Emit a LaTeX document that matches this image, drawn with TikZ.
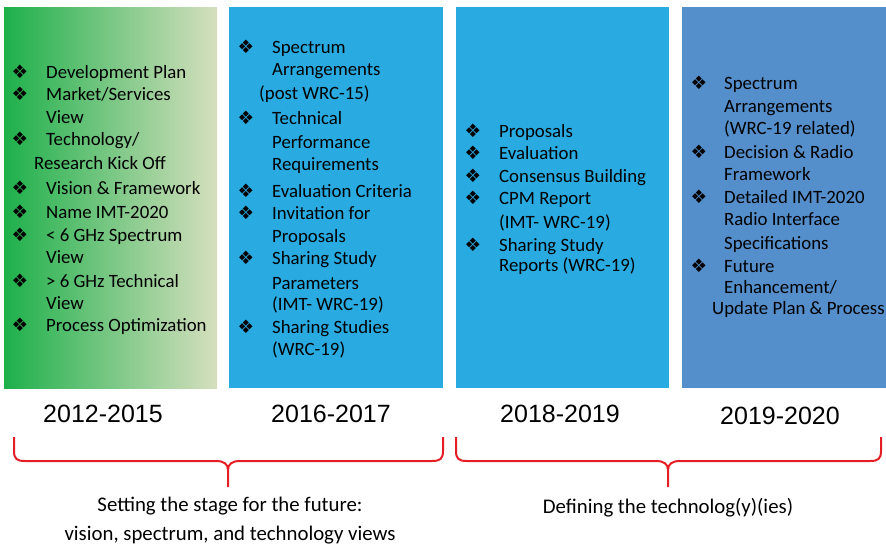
\documentclass[tikz,border=0pt]{standalone}
\usepackage{fontspec}
\usetikzlibrary{calc}
\setmainfont{Carlito}
\newfontfamily\yearfont{Liberation Sans}
\newfontfamily\dejavu{DejaVu Sans}
\definecolor{gL}{RGB}{30,176,75}
\definecolor{gR}{RGB}{214,223,190}
\definecolor{cyanbox}{RGB}{41,171,226}
\definecolor{bluebox}{RGB}{84,142,203}
\definecolor{bracered}{RGB}{228,30,36}
\begin{document}
\begin{tikzpicture}[x=1pt,y=-1pt,
  box/.style={draw=none,anchor=north west,inner sep=0pt,minimum height=381pt},
  ln/.style={anchor=base west,inner sep=0pt,font=\fontsize{18.8}{22}\selectfont},
  bl/.style={anchor=center,inner sep=0pt,font=\dejavu\fontsize{18.5}{20}\selectfont},
  yr/.style={anchor=center,inner sep=0pt,font=\yearfont\fontsize{25}{30}\selectfont},
  captxt/.style={anchor=center,inner sep=0pt,font=\fontsize{20.8}{24}\selectfont},
  brace/.style={draw=bracered,line width=2pt,line join=round}]
\useasboundingbox (0,0) rectangle (886,544);
% boxes
\node[box,minimum width=213pt,left color=gL,right color=gR] (box1) at (4,7) {};
\node[box,minimum width=214pt,fill=cyanbox] (box2) at (229,7) {};
\node[box,minimum width=213pt,fill=cyanbox] (box3) at (456,7) {};
\node[box,minimum width=206pt,fill=bluebox] (box4) at (682,7) {};
% box 1
\node[bl] (b1a) at (20,72) {❖};
\node[bl] (b1b) at (20,94) {❖};
\node[bl] (b1c) at (20,139) {❖};
\node[bl] (b1d) at (20,188) {❖};
\node[bl] (b1e) at (20,212) {❖};
\node[bl] (b1f) at (20,235) {❖};
\node[bl] (b1g) at (20,281) {❖};
\node[bl] (b1h) at (20,325) {❖};
\node[ln] (t1a) at (46,78) {Development Plan};
\node[ln] (t1b) at (46,100) {Market/Services};
\node[ln] (t1c) at (46,123) {View};
\node[ln] (t1d) at (46,145) {Technology/};
\node[ln] (t1e) at (34,169) {Research Kick Off};
\node[ln] (t1f) at (46,194) {Vision \& Framework};
\node[ln] (t1g) at (46,218) {Name IMT-2020};
\node[ln] (t1h) at (46,241) {< 6 GHz Spectrum};
\node[ln] (t1i) at (46,263) {View};
\node[ln] (t1j) at (46,287) {> 6 GHz Technical};
\node[ln] (t1k) at (46,309) {View};
\node[ln] (t1l) at (46,331) {Process Optimization};
% box 2
\node[bl] (b2a) at (246,47) {❖};
\node[bl] (b2b) at (246,118) {❖};
\node[bl] (b2c) at (246,191) {❖};
\node[bl] (b2d) at (246,213) {❖};
\node[bl] (b2e) at (246,258) {❖};
\node[bl] (b2f) at (246,327) {❖};
\node[ln] (t2a) at (272,53) {Spectrum};
\node[ln] (t2b) at (272,75) {Arrangements};
\node[ln] (t2c) at (259,99) {(post WRC-15)};
\node[ln] (t2d) at (272,124) {Technical};
\node[ln] (t2e) at (272,148) {Performance};
\node[ln] (t2f) at (272,170) {Requirements};
\node[ln] (t2g) at (272,197) {Evaluation Criteria};
\node[ln] (t2h) at (272,219) {Invitation for};
\node[ln] (t2i) at (272,242) {Proposals};
\node[ln] (t2j) at (272,264) {Sharing Study};
\node[ln] (t2k) at (272,289) {Parameters};
\node[ln] (t2l) at (272,310) {(IMT- WRC-19)};
\node[ln] (t2m) at (272,333) {Sharing Studies};
\node[ln] (t2n) at (272,355) {(WRC-19)};
% box 3
\node[bl] (b3a) at (473,131) {❖};
\node[bl] (b3b) at (473,153) {❖};
\node[bl] (b3c) at (473,176) {❖};
\node[bl] (b3d) at (473,198) {❖};
\node[bl] (b3e) at (473,245) {❖};
\node[ln] (t3a) at (499,137) {Proposals};
\node[ln] (t3b) at (499,159) {Evaluation};
\node[ln] (t3c) at (499,182) {Consensus Building};
\node[ln] (t3d) at (499,204) {CPM Report};
\node[ln] (t3e) at (499,228) {(IMT- WRC-19)};
\node[ln] (t3f) at (499,251) {Sharing Study};
\node[ln] (t3g) at (499,271) {Reports (WRC-19)};
% box 4
\node[bl] (b4a) at (699,83) {❖};
\node[bl] (b4b) at (699,152) {❖};
\node[bl] (b4c) at (699,197) {❖};
\node[bl] (b4d) at (699,266) {❖};
\node[ln] (t4a) at (724,89) {Spectrum};
\node[ln] (t4b) at (724,112) {Arrangements};
\node[ln] (t4c) at (724,134) {(WRC-19 related)};
\node[ln] (t4d) at (724,158) {Decision \& Radio};
\node[ln] (t4e) at (724,180) {Framework};
\node[ln] (t4f) at (724,203) {Detailed IMT-2020};
\node[ln] (t4g) at (724,225) {Radio Interface};
\node[ln] (t4h) at (724,249) {Specifications};
\node[ln] (t4i) at (724,272) {Future};
\node[ln] (t4j) at (724,293) {Enhancement/};
\node[ln] (t4k) at (712,314) {Update Plan \& Process};
% years
\node[yr] (y1) at (103,414) {2012-2015};
\node[yr] (y2) at (331,414) {2016-2017};
\node[yr] (y3) at (560,414) {2018-2019};
\node[yr] (y4) at (780,416) {2019-2020};
% braces
\coordinate (bra) at (14,437);
\coordinate (brm) at (228,487);
\coordinate (brb) at (443,437);
\coordinate (brc) at (456,437);
\coordinate (brn) at (668,487);
\coordinate (brd) at (881,437);
\draw[brace] (bra) -- ++(0,14) .. controls +(0,8) and +(-8,0) .. ++(11,10)
  -- ($(brm)+(-12,-26)$) .. controls +(8,0) and +(0,-6) .. ($(brm)+(0,-17)$) -- (brm);
\draw[brace] (brb) -- ++(0,14) .. controls +(0,8) and +(8,0) .. ++(-11,10)
  -- ($(brm)+(12,-26)$) .. controls +(-8,0) and +(0,-6) .. ($(brm)+(0,-17)$);
\draw[brace] (brc) -- ++(0,14) .. controls +(0,8) and +(-8,0) .. ++(11,10)
  -- ($(brn)+(-12,-26)$) .. controls +(8,0) and +(0,-6) .. ($(brn)+(0,-17)$) -- (brn);
\draw[brace] (brd) -- ++(0,14) .. controls +(0,8) and +(8,0) .. ++(-11,10)
  -- ($(brn)+(12,-26)$) .. controls +(-8,0) and +(0,-6) .. ($(brn)+(0,-17)$);
% captions
\node[captxt] (c1) at (230,506) {Setting the stage for the future:};
\node[captxt] (c2) at (230,535) {vision, spectrum, and technology views};
\node[captxt] (c3) at (668,508) {Defining the technolog(y)(ies)};
\end{tikzpicture}
\end{document}
